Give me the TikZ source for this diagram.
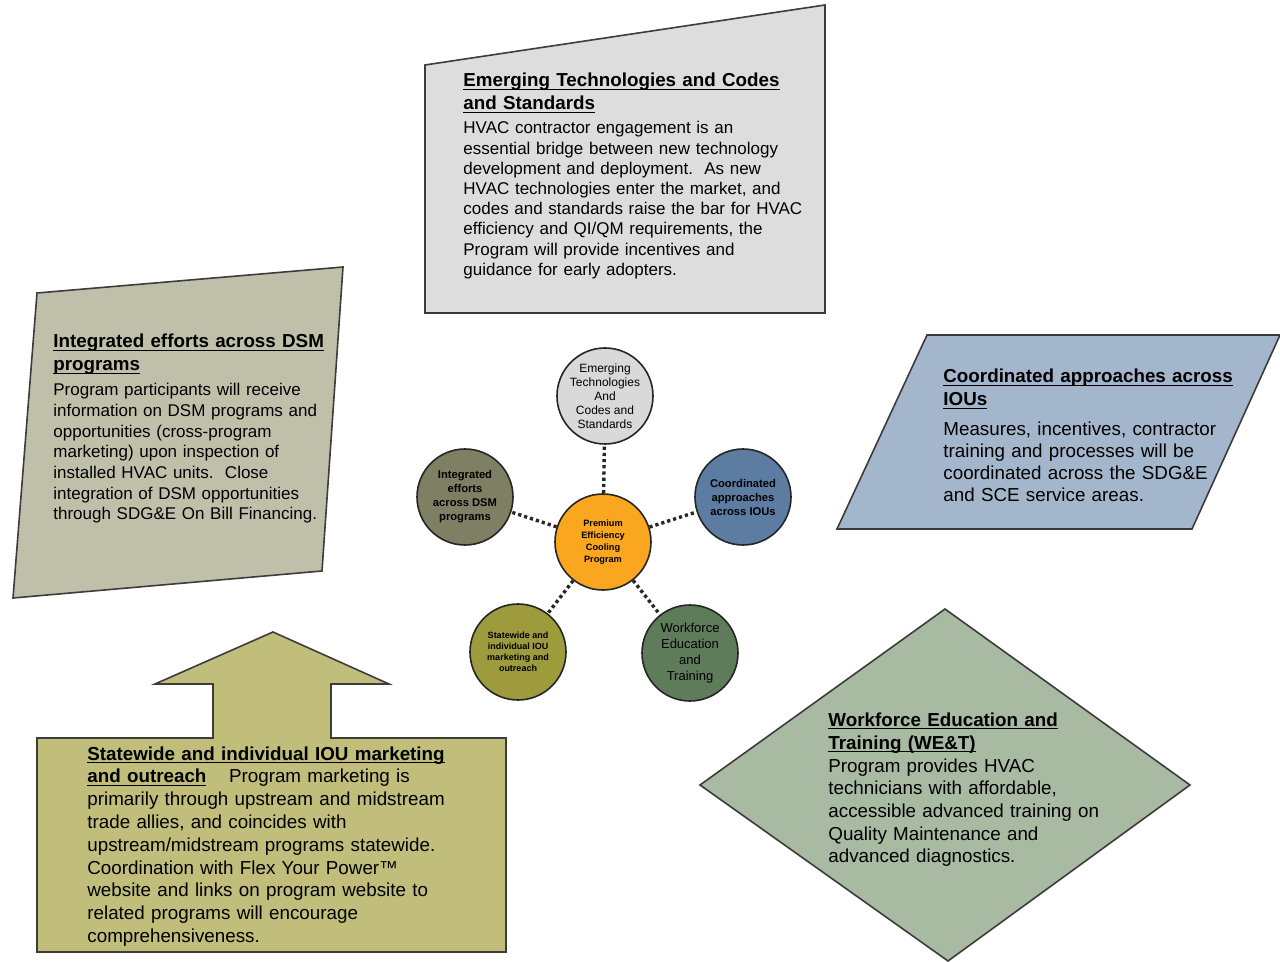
\documentclass[tikz,border=0pt]{standalone}
\usepackage{fontspec}
\setmainfont{Liberation Sans}
\frenchspacing
\newcommand\myul[1]{\underline{\setbox0\hbox{#1}\dp0=0pt\box0}}
\definecolor{topbox}{RGB}{221,221,221}
\definecolor{leftbox}{RGB}{192,192,170}
\definecolor{rightbox}{RGB}{164,182,204}
\definecolor{bottombox}{RGB}{192,190,122}
\definecolor{diamondbox}{RGB}{168,186,162}
\definecolor{cTop}{RGB}{217,217,217}
\definecolor{cLeft}{RGB}{127,127,99}
\definecolor{cRight}{RGB}{92,124,161}
\definecolor{cCenter}{RGB}{250,166,30}
\definecolor{cBL}{RGB}{157,155,60}
\definecolor{cBR}{RGB}{95,124,90}
\definecolor{edge}{RGB}{60,60,60}
\begin{document}
\begin{tikzpicture}[x=0.5pt,y=-0.5pt,
  bigshape/.style={draw=edge,line width=0.8pt},
  ttl/.style={anchor=base west,inner sep=0pt,align=left,text width=200pt,
    font=\fontsize{9.4}{11.5}\selectfont\bfseries},
  smallbody/.style={anchor=base west,inner sep=0pt,align=left,text width=200pt,
    font=\fontsize{8.5}{#1}\selectfont},
  bigbody/.style={anchor=base west,inner sep=0pt,align=left,text width=250pt,
    font=\fontsize{9.4}{#1}\selectfont},
  circ/.style={circle,draw=black!85,line width=0.8pt,minimum size=48pt,
    inner sep=0pt,align=center},
  dotline/.style={line width=1.7pt,dash pattern=on 1.6pt off 1.5pt,black!85}]
\useasboundingbox (0,0) rectangle (1280,962);

% ---- big shapes ----
\draw[bigshape,fill=topbox] (425,65) -- (825,5) -- (825,313) -- (425,313) -- cycle;
\draw[bigshape,fill=leftbox] (37,293) -- (343,267) -- (322,571) -- (13,598) -- cycle;
\draw[bigshape,fill=rightbox] (927,335) -- (1280,335) -- (1192,529) -- (837,529) -- cycle;
\draw[bigshape,fill=diamondbox] (945,609) -- (1190,785) -- (948,961) -- (700,785) -- cycle;
\draw[bigshape,fill=bottombox] (37,738) -- (213,738) -- (213,684) -- (155,684) -- (273,632)
  -- (389,684) -- (331,684) -- (331,738) -- (506,738) -- (506,952) -- (37,952) -- cycle;

% ---- texts of big shapes ----
\node[ttl] (tTitle) at (463,87) {\myul{Emerging Technologies and Codes}\\\myul{and Standards}};
\node[smallbody=10.1pt] (tBody) at (463,134) {HVAC contractor engagement is an\\
essential bridge between new technology\\
development and deployment.\ \ As new\\
HVAC technologies enter the market, and\\
codes and standards raise the bar for HVAC\\
efficiency and QI/QM requirements, the\\
Program will provide incentives and\\
guidance for early adopters.};

\node[ttl] (lTitle) at (53,348) {\myul{Integrated efforts across DSM}\\\myul{programs}};
\node[smallbody=10.33pt] (lBody) at (53,396) {Program participants will receive\\
information on DSM programs and\\
opportunities (cross-program\\
marketing) upon inspection of\\
installed HVAC units.\ \ Close\\
integration of DSM opportunities\\
through SDG\&E On Bill Financing.};

\node[ttl] (rTitle) at (943,383) {\myul{Coordinated approaches across}\\\myul{IOUs}};
\node[bigbody=11pt] (rBody) at (943,436) {Measures, incentives, contractor\\
training and processes will be\\
coordinated across the SDG\&E\\
and SCE service areas.};

\node[ttl] (dTitle) at (828,726) {\myul{Workforce Education and}\\\myul{Training (WE\&T)}};
\node[bigbody=11.35pt] (dBody) at (828,772) {Program provides HVAC\\
technicians with affordable,\\
accessible advanced training on\\
Quality Maintenance and\\
advanced diagnostics.};

\node[bigbody=11.4pt] (bText) at (87,760) {\myul{\bfseries Statewide and individual IOU marketing}\\
\myul{\bfseries and outreach}\hspace{1.2em}Program marketing is\\
primarily through upstream and midstream\\
trade allies, and coincides with\\
upstream/midstream programs statewide.\\
Coordination with Flex Your Power™\\
website and links on program website to\\
related programs will encourage\\
comprehensiveness.};

% ---- hub and spokes ----
\node[circ,fill=cCenter,font=\fontsize{4.6}{6}\selectfont\bfseries] (hub) at (603,542)
  {Premium\\Efficiency\\Cooling\\Program};
\node[circ,fill=cTop,font=\fontsize{6}{7}\selectfont] (ctop) at (605,396)
  {Emerging\\Technologies\\And\\Codes and\\Standards};
\node[circ,fill=cLeft,font=\fontsize{5.6}{7}\selectfont\bfseries] (cleft) at (465,497)
  {Integrated\\efforts\\across DSM\\programs};
\node[circ,fill=cRight,font=\fontsize{5.6}{7}\selectfont\bfseries] (cright) at (743,497)
  {Coordinated\\approaches\\across IOUs};
\node[circ,fill=cBL,font=\fontsize{4.5}{5.5}\selectfont\bfseries] (cbl) at (518,652)
  {Statewide and\\individual IOU\\marketing and\\outreach};
\node[circ,fill=cBR,font=\fontsize{6.5}{8}\selectfont] (cbr) at (690,653)
  {Workforce\\Education\\and\\Training};

\draw[dotline] (hub) -- (ctop);
\draw[dotline] (hub) -- (cleft);
\draw[dotline] (hub) -- (cright);
\draw[dotline] (hub) -- (cbl);
\draw[dotline] (hub) -- (cbr);
\end{tikzpicture}
\end{document}
